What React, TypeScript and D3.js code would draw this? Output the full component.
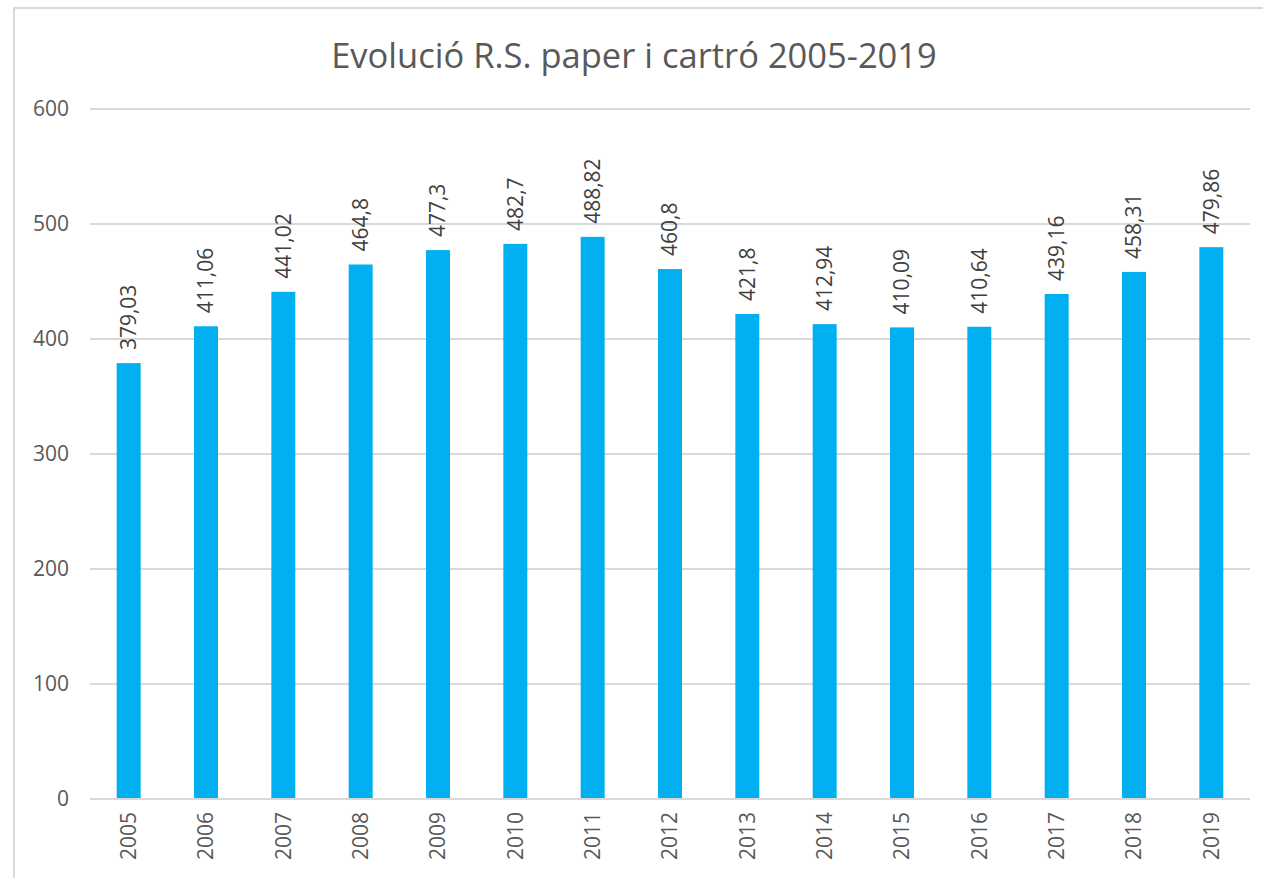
import React from "react";
import * as d3 from "d3";

const years = ["2005","2006","2007","2008","2009","2010","2011","2012","2013","2014","2015","2016","2017","2018","2019"];
const values = [379.03,411.06,441.02,464.8,477.3,482.7,488.82,460.8,421.8,412.94,410.09,410.64,439.16,458.31,479.86];
const yTicks = [0,100,200,300,400,500,600];
const title = "Evolució R.S. paper i cartró 2005-2019";

const W = 1263, H = 878;
const left = 90, right = 1250, top = 109, bottom = 799;
const font = "'Open Sans', 'Segoe UI', sans-serif";
const textColor = "#595959";

export default function App() {
  const x = d3.scaleBand<string>().domain(years).range([left, right]).paddingInner(0.69).paddingOuter(0.345);
  const y = d3.scaleLinear().domain([0, 600]).range([bottom, top]);
  const fmt = (v: number) => String(v).replace(".", ",");
  return (
    <svg width={W} height={H} style={{ position: "absolute", left: 0, top: 0 }}>
      <rect x={0} y={0} width={W} height={H} fill="#fff" />
      <rect x={14} y={8} width={W} height={H} fill="#fff" stroke="#d9d9d9" strokeWidth={2} />
      <text x={634} y={68} textAnchor="middle" fontFamily={font} fontSize={34.5} fill={textColor}>{title}</text>
      {yTicks.map(t => (
        <g key={t}>
          {t > 0 && <line x1={left} x2={right} y1={y(t)} y2={y(t)} stroke="#d9d9d9" strokeWidth={2} />}
          <text x={69} y={y(t)} dy="0.35em" textAnchor="end" fontFamily={font} fontSize={21} fill={textColor}>{t}</text>
        </g>
      ))}
      {years.map((yr, i) => {
        const cx = x(yr)! + x.bandwidth() / 2;
        return (
          <g key={yr}>
            <rect x={x(yr)} y={y(values[i])} width={x.bandwidth()} height={bottom - y(values[i])} fill="#00b0f0" />
            <text transform={`translate(${cx},${y(values[i]) - 13}) rotate(-90)`} dy="0.35em" textAnchor="start" fontFamily={font} fontSize={21} fill="#404040">{fmt(values[i])}</text>
            <text transform={`translate(${cx},${bottom + 13}) rotate(-90)`} dy="0.35em" textAnchor="end" fontFamily={font} fontSize={21} fill={textColor}>{yr}</text>
          </g>
        );
      })}
      <line x1={left} x2={right} y1={bottom} y2={bottom} stroke="#d9d9d9" strokeWidth={2} />
    </svg>
  );
}
